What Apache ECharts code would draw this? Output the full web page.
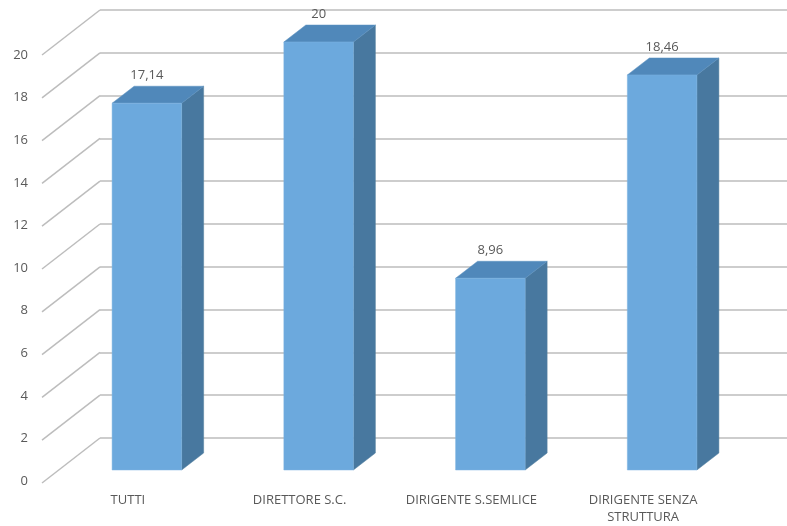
<!DOCTYPE html>
<html>
<head>
<meta charset="utf-8">
<script src="https://cdn.jsdelivr.net/npm/echarts@6/dist/echarts.min.js"></script>
<style>html,body{margin:0;padding:0;background:#fff}#c{width:787px;height:526px}</style>
</head>
<body>
<div id="c"></div>
<script>
const categories = ['TUTTI', 'DIRETTORE S.C.', 'DIRIGENTE S.SEMLICE', 'DIRIGENTE SENZA\nSTRUTTURA'];
const values = [17.14, 20, 8.96, 18.46];
const yTicks = [0, 2, 4, 6, 8, 10, 12, 14, 16, 18, 20];

const FONT = '"Open Sans", "Noto Sans", sans-serif';
const TXT = '#595959';
const GRIDC = '#BDBDBD';

const chart = echarts.init(document.getElementById('c'), null, {renderer: 'canvas'});

function fmt(v) { return String(v).replace('.', ','); }

const option = {
  animation: false,
  backgroundColor: '#fff',
  grid: [
    {left: 100, right: 0, top: 10, bottom: 88},
    {left: 42, right: 58, top: 55, bottom: 43}
  ],
  xAxis: [
    {gridIndex: 0, type: 'category', data: categories, show: false},
    {gridIndex: 1, type: 'category', data: categories,
     axisLine: {show: false}, axisTick: {show: false},
     axisLabel: {color: TXT, fontSize: 13, fontFamily: FONT, margin: 11, lineHeight: 17, interval: 0}}
  ],
  yAxis: [
    {gridIndex: 0, type: 'value', min: 0, max: 20, interval: 2,
     axisLine: {show: false}, axisTick: {show: false}, axisLabel: {show: false},
     splitLine: {lineStyle: {color: GRIDC, width: 1.5}}},
    {gridIndex: 1, type: 'value', min: 0, max: 20, interval: 2,
     axisLine: {show: false}, axisTick: {show: false}, splitLine: {show: false},
     axisLabel: {color: TXT, fontSize: 13, fontFamily: FONT, margin: 14}}
  ],
  series: [
    {
      type: 'custom',
      name: 'diag',
      xAxisIndex: 0, yAxisIndex: 0,
      data: yTicks.map(t => [0, t]),
      silent: true,
      renderItem: function (params, api) {
        const p = api.coord([0, api.value(1)]);
        const x = params.coordSys.x;
        return {
          type: 'line',
          shape: {x1: x, y1: p[1], x2: x - 58, y2: p[1] + 45},
          style: {stroke: GRIDC, lineWidth: 1.5}
        };
      }
    },
    {
      type: 'custom',
      name: 'bars',
      xAxisIndex: 0, yAxisIndex: 0,
      data: values.map((v, i) => [i, v]),
      renderItem: function (params, api) {
        const i = api.value(0), v = api.value(1);
        const top = api.coord([i, v]);
        const base = api.coord([i, 0]);
        const bw = api.size([1, 0])[0] * 0.405;
        const F = [-39, 32], B = [-17, 15];
        const x0 = top[0] - bw / 2 + F[0], x1 = x0 + bw;
        const yt = top[1] + F[1], yb = base[1] + F[1];
        const x0b = top[0] - bw / 2 + B[0], x1b = x0b + bw;
        const ytb = top[1] + B[1], ybb = base[1] + B[1];
        return {
          type: 'group',
          children: [
            {type: 'polygon', shape: {points: [[x1, yt], [x1b, ytb], [x1b, ybb], [x1, yb]]},
             style: {fill: '#48789F', stroke: '#54809F', lineWidth: 0.5}},
            {type: 'polygon', shape: {points: [[x0, yt], [x1, yt], [x1b, ytb], [x0b, ytb]]},
             style: {fill: '#5088BA', stroke: '#5B90C0', lineWidth: 0.5}},
            {type: 'rect', shape: {x: x0, y: yt, width: bw, height: yb - yt},
             style: {fill: '#6CA9DD', stroke: '#7DB2E0', lineWidth: 0.5}},
            {type: 'text', x: (x0 + x1) / 2, y: ytb - 11,
             style: {text: fmt(v), fill: TXT, fontSize: 13, fontFamily: FONT, align: 'center', verticalAlign: 'middle'}}
          ]
        };
      }
    }
  ]
};
chart.setOption(option);
</script>
</body>
</html>
